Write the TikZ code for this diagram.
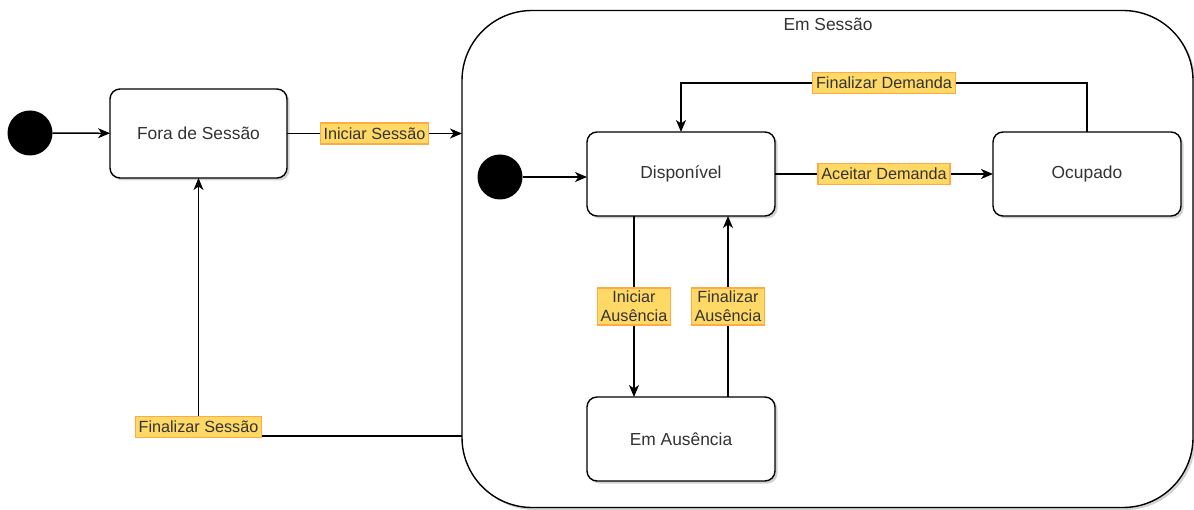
\documentclass[tikz,border=0pt]{standalone}
\usepackage{fontspec}
\setmainfont{Liberation Sans}
\usetikzlibrary{arrows.meta,shadows}
\definecolor{lblfill}{HTML}{FFD966}
\definecolor{lbldraw}{HTML}{FFAA44}
\definecolor{txt}{HTML}{333333}
\begin{document}
\begin{tikzpicture}[x=1pt,y=-1pt,
  every node/.style={inner sep=0pt, outer sep=0pt},
  boxshadow/.style={drop shadow={opacity=0.35, shadow xshift=2.5pt, shadow yshift=-2.5pt}},
  state/.style={draw=black, line width=1.4pt, fill=white, rounded corners=10pt,
    minimum width=188pt, minimum height=84pt, text=txt,
    font=\fontsize{17.4}{20}\selectfont, boxshadow},
  initial/.style={circle, fill=black, minimum size=45pt},
  lbl/.style={draw=lbldraw, fill=lblfill, line width=1.2pt, text=txt,
    inner xsep=3.5pt, inner ysep=3pt, minimum height=21pt, align=center,
    font=\fontsize{16.2}{19}\selectfont},
  trans/.style={draw=black, line width=1.4pt,
    -{Stealth[length=12pt,width=10pt,inset=3.5pt]}}]
\useasboundingbox (0,0) rectangle (1194,510);

% composite state
\node[draw=black, line width=1.4pt, fill=white, rounded corners=70pt,
  minimum width=731pt, minimum height=497pt, boxshadow] (sess) at (827.5,259) {};
\node[text=txt, font=\fontsize{17.4}{20}\selectfont] (sesstitle) at (828,24) {Em Sessão};

% outer states
\node[initial] (init1) at (30,133) {};
\node[state, minimum width=177pt, minimum height=89pt] (fora) at (198.5,133.5) {Fora de Sessão};

% inner states
\node[initial] (init2) at (500,177) {};
\node[state] (disp) at (681,174) {Disponível};
\node[state] (ocup) at (1087,174) {Ocupado};
\node[state] (aus) at (681,439) {Em Ausência};

% helper points for routed connectors
\coordinate (fdR) at (1087,83);
\coordinate (fdL) at (681,83);
\coordinate (fsR) at (sess.west |- 0,436);
\coordinate (fsL) at (fora.south |- fsR);

% transitions
\draw[trans] (init1) -- (fora);
\draw[trans] (fora.east) -- node[lbl] (lis) {Iniciar Sessão} (fora.east -| sess.west);
\draw[trans] (init2.east) -- (init2.east -| disp.west);
\draw[trans] (disp) -- node[lbl] (lad) {Aceitar Demanda} (ocup);
\draw[trans] (ocup.north) -- (fdR) -- node[lbl] (lfd) {Finalizar Demanda} (fdL) -- (disp.north);
\draw[trans] ([xshift=-47pt]disp.south) -- node[lbl] (lia) {Iniciar\\Ausência} ([xshift=-47pt]aus.north);
\draw[trans] ([xshift=47pt]aus.north) -- node[lbl] (lfa) {Finalizar\\Ausência} ([xshift=47pt]disp.south);
\draw[trans] (fsR) -- (fsL) -- (fora.south);
\node[lbl] (lfs) at ([yshift=9pt]fsL) {Finalizar Sessão};
\end{tikzpicture}
\end{document}
